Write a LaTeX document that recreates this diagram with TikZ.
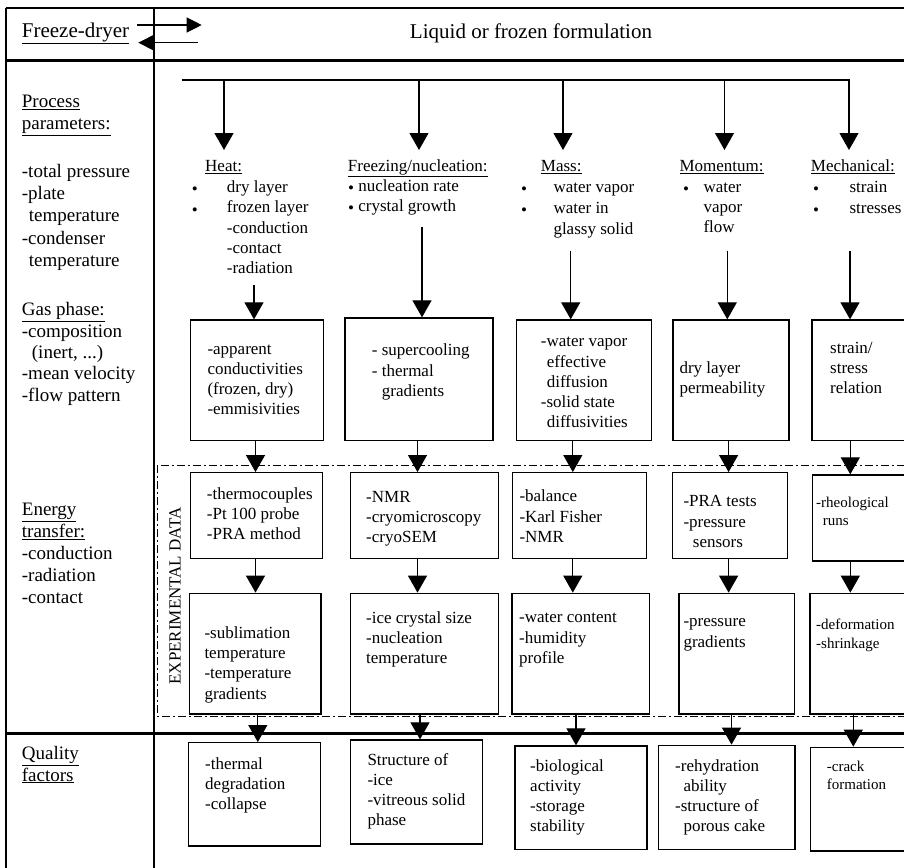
\documentclass[tikz,border=0pt]{standalone}
\usepackage{fontspec}
\setmainfont{Liberation Serif}
\usetikzlibrary{arrows.meta,fit}
\newcommand{\bul}{\raisebox{-2.5pt}{•}}
\newcommand{\fs}{\rule{0pt}{0.8em}}
\begin{document}
\begin{tikzpicture}[x=1pt,y=-1pt,
  bx/.style={draw, line width=1.3pt, inner sep=0pt},
  arr/.style={line width=1.2pt, -{Triangle[length=17pt,width=19pt]}},
  harr/.style={line width=1.2pt, -{Triangle[length=15pt,width=15pt]}},
  frame/.style={line width=1.6pt},
  thick line/.style={line width=2.6pt},
  dashdotline/.style={line width=1pt, dash pattern=on 8pt off 3pt on 2pt off 3pt},
  ta/.style={inner sep=0pt, align=left, anchor=north west},
  t21/.style={ta, yshift=16.8pt, font=\fontsize{21}{24}\selectfont},
  t19/.style={ta, yshift=15.2pt, font=\fontsize{19}{21.8}\selectfont},
  t17/.style={ta, yshift=13.6pt, font=\fontsize{17}{20.2}\selectfont},
  t15/.style={ta, yshift=12pt, font=\fontsize{15}{18.6}\selectfont},
]
\useasboundingbox (0,0) rectangle (904,867);
\clip (0,0) rectangle (904,867);

% frame
\draw[frame] (5.7,8.3) -- (910,8.3);
\draw[frame] (6,8.3) -- (6,870);
\draw[line width=2pt] (154,8.3) -- (154,870);
\draw[thick line] (6,60.7) -- (910,60.7);
\draw[thick line] (6,733.3) -- (910,733.3);
\draw[dashdotline] (157,465) rectangle (912,716);

% header
\node[t21] (fd) at (21.7,37) {\fs\underline{Freeze-dryer}};
\node[inner sep=0pt, anchor=base, font=\fontsize{21}{24}\selectfont] (lf) at (531,39) {Liquid or frozen formulation};
\coordinate (ra1) at (137.3,25);
\coordinate (ra2) at (201.7,25);
\coordinate (la1) at (197.7,42.7);
\coordinate (la2) at (138.3,42.7);
\draw[harr] (ra1) -- (ra2);
\draw[harr] (la1) -- (la2);

% left column
\node[t19] (pp) at (21.7,107.5) {\fs\underline{Process}\\\underline{parameters:}};
\node[t19, font=\fontsize{19}{22.2}\selectfont] (pl) at (21.7,177.2) {\fs-total pressure\\-plate\\\hspace*{7pt}temperature\\-condenser\\\hspace*{7pt}temperature};
\node[t19, font=\fontsize{19}{21.4}\selectfont] (gp) at (21.7,315.5) {\fs\underline{Gas phase:}\\-composition\\\hspace*{10pt}(inert, ...)\\-mean velocity\\-flow pattern};
\node[t19, font=\fontsize{19}{21.9}\selectfont] (et) at (21.7,515.5) {\fs\underline{Energy}\\\underline{transfer:}\\-conduction\\-radiation\\-contact};
\node[t19] (qf) at (21.7,759) {\fs\underline{Quality}\\\underline{factors}};

% experimental data label
\node[font=\fontsize{17}{20}\selectfont, inner sep=0pt, rotate=90] (ed) at (175,596) {EXPERIMENTAL DATA};

% distribution line and arrows
\coordinate (d0) at (181.7,80);
\coordinate (d5) at (850,80);
\coordinate (dH) at (224,80);
\coordinate (dF) at (419,80);
\coordinate (dM) at (563,80);
\coordinate (dP) at (724.5,80);
\coordinate (dK) at (849,80);
\coordinate (tipline) at (0,150);
\draw[line width=1.3pt] (d0) -- (d5);
\foreach \c in {dH,dF,dM,dP,dK} \draw[arr] (\c) -- (\c |- tipline);

% headings
\node[t17] (hh) at (205,171) {\fs\underline{Heat:}};
\node[t17] (fh) at (347.7,171) {\fs\underline{Freezing/nucleation:}};
\node[t17] (mh) at (540.7,171) {\fs\underline{Mass:}};
\node[t17] (ph) at (679.3,171) {\fs\underline{Momentum:}};
\node[t17] (kh) at (810.7,171) {\fs\underline{Mechanical:}};

% bullet lists
\node[t17, font=\fontsize{17}{21}\selectfont] (hb) at (191.7,192) {\fs\bul\\\bul};
\node[t17, font=\fontsize{17}{20.4}\selectfont] (hl) at (226.7,192) {\fs dry layer\\frozen layer\\-conduction\\-contact\\-radiation};
\node[t17, font=\fontsize{17}{20}\selectfont] (fl) at (348,191) {\fs\bul{} nucleation rate\\\bul{} crystal growth};
\node[t17, font=\fontsize{17}{21}\selectfont] (mb) at (521,192) {\fs\bul\\\bul};
\node[t17, font=\fontsize{17}{21}\selectfont] (ml) at (553.3,192) {\fs water vapor\\water in\\glassy solid};
\node[t17] (pb) at (683,192) {\fs\bul};
\node[t17, font=\fontsize{17}{20}\selectfont] (pl2) at (703.3,192) {\fs water\\vapor\\flow};
\node[t17, font=\fontsize{17}{21}\selectfont] (kb) at (813,192) {\fs\bul\\\bul};
\node[t17, font=\fontsize{17}{21}\selectfont] (kl) at (849.3,192) {\fs strain\\stresses};

% row 1 boxes
\node[bx, fit={(190.7,320) (323.7,440.5)}] (h1) {};
\node[bx, fit={(345,318) (493,440.5)}] (f1) {};
\node[bx, fit={(516.7,320) (651.7,440.7)}] (m1) {};
\node[bx, fit={(673,320) (789,440.7)}] (p1) {};
\node[bx, fit={(812,320) (915,440.7)}] (k1) {};

% arrows from headings
\coordinate (aH) at (254,285);
\coordinate (aF) at (422,226.7);
\coordinate (aM) at (570.7,250.7);
\coordinate (aP) at (727.3,250.7);
\coordinate (aK) at (850,250.7);
\draw[arr] (aH) -- (aH |- h1.north);
\draw[arr] (aF) -- (aF |- f1.north);
\draw[arr] (aM) -- (aM |- m1.north);
\draw[arr] (aP) -- (aP |- p1.north);
\draw[arr] (aK) -- (aK |- k1.north);

\node[t17] (h1t) at (207.3,354) {\fs-apparent\\conductivities\\(frozen, dry)\\-emmisivities};
\node[t17] (f1t) at (371.7,355.7) {\fs- supercooling\\- thermal\\\hspace*{10pt}gradients};
\node[t17] (m1t) at (540.7,346.7) {\fs-water vapor\\\hspace*{6pt}effective\\\hspace*{6pt}diffusion\\-solid state\\\hspace*{6pt}diffusivities};
\node[t17] (p1t) at (679.3,373.3) {\fs dry layer\\permeability};
\node[t17] (k1t) at (830,353.3) {\fs strain/\\stress\\relation};

% row 2 boxes
\node[bx, fit={(190.7,472.7) (322.3,558.3)}] (h2) {};
\node[bx, fit={(350.7,472.7) (498.3,558.3)}] (f2) {};
\node[bx, fit={(512.3,472.7) (646.7,558.3)}] (m2) {};
\node[bx, fit={(672.3,472.7) (787.3,558.3)}] (p2) {};
\node[bx, fit={(812.3,475) (915,561)}] (k2) {};

\node[t17] (h2t) at (206.7,499) {\fs-thermocouples\\-Pt 100 probe\\-PRA method};
\node[t17] (f2t) at (366,502.3) {\fs-NMR\\-cryomicroscopy\\-cryoSEM};
\node[t17] (m2t) at (519.3,501.7) {\fs-balance\\-Karl Fisher\\-NMR};
\node[t17] (p2t) at (683.3,506.7) {\fs-PRA tests\\-pressure\\\hspace*{9.4pt}sensors};
\node[t15, font=\fontsize{15}{18}\selectfont] (k2t) at (816,507) {\fs-rheological\\\hspace*{6.7pt}runs};

% row 3 boxes
\node[bx, fit={(189.3,593.3) (321,714)}] (h3) {};
\node[bx, fit={(350.7,593.3) (498.3,714)}] (f3) {};
\node[bx, fit={(512,593.3) (649.3,714)}] (m3) {};
\node[bx, fit={(679,593.3) (794.3,714)}] (p3) {};
\node[bx, fit={(810,593.3) (915,714)}] (k3) {};

\node[t17] (h3t) at (204.3,638.3) {\fs-sublimation\\temperature\\-temperature\\gradients};
\node[t17] (f3t) at (366,623.3) {\fs-ice crystal size\\-nucleation\\temperature};
\node[t17] (m3t) at (519,622.7) {\fs-water content\\-humidity\\profile};
\node[t17] (p3t) at (683.3,626.7) {\fs-pressure\\gradients};
\node[t15, font=\fontsize{15}{19}\selectfont] (k3t) at (816,629.5) {\fs-deformation\\-shrinkage};

% quality boxes
\node[bx, fit={(188.3,742.7) (320.7,846)}] (q1) {};
\node[bx, fit={(350.7,740) (482.7,844)}] (q2) {};
\node[bx, fit={(515,746) (647,849.3)}] (q3) {};
\node[bx, fit={(658.3,745.3) (795,849.3)}] (q4) {};
\node[bx, fit={(810.7,747.3) (915,851)}] (q5) {};

\node[t17] (q1t) at (205,769.3) {\fs-thermal\\degradation\\-collapse};
\node[t17] (q2t) at (367.3,765) {\fs Structure of\\-ice\\-vitreous solid\\phase};
\node[t17] (q3t) at (530,771) {\fs-biological\\activity\\-storage\\stability};
\node[t17] (q4t) at (675,771) {\fs-rehydration\\\hspace*{8.3pt}ability\\-structure of\\\hspace*{8.3pt}porous cake};
\node[t15] (q5t) at (826.7,771) {\fs-crack\\formation};

% column arrows
\coordinate (cH) at (255.5,0);
\coordinate (cF) at (417.5,0);
\coordinate (cM) at (572.8,0);
\coordinate (cP) at (728.6,0);
\coordinate (cK) at (850.3,0);
\coordinate (qH) at (257.8,0);
\coordinate (qF) at (420,0);
\coordinate (qM) at (576,0);
\coordinate (qP) at (731.5,0);
\coordinate (qK) at (853.3,0);

\draw[arr] (h1.south -| cH) -- (h2.north -| cH);
\draw[arr] (f1.south -| cF) -- (f2.north -| cF);
\draw[arr] (m1.south -| cM) -- (m2.north -| cM);
\draw[arr] (p1.south -| cP) -- (p2.north -| cP);
\draw[arr] (k1.south -| cK) -- (k2.north -| cK);

\draw[arr] (h2.south -| cH) -- (h3.north -| cH);
\draw[arr] (f2.south -| cF) -- (f3.north -| cF);
\draw[arr] (m2.south -| cM) -- (m3.north -| cM);
\draw[arr] (p2.south -| cP) -- (p3.north -| cP);
\draw[arr] (k2.south -| cK) -- (k3.north -| cK);

\draw[arr] (h3.south -| qH) -- (q1.north -| qH);
\draw[arr] (f3.south -| qF) -- (q2.north -| qF);
\draw[arr] (m3.south -| qM) -- (q3.north -| qM);
\draw[arr] (p3.south -| qP) -- (q4.north -| qP);
\draw[arr] (k3.south -| qK) -- (q5.north -| qK);
\end{tikzpicture}
\end{document}
